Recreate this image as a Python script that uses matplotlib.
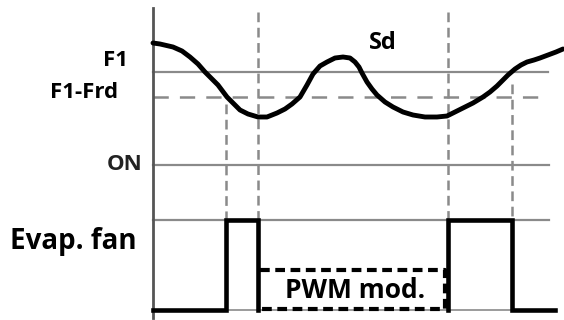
import numpy as np
import matplotlib
matplotlib.use("Agg")
import matplotlib.pyplot as plt

plt.rcParams['font.family'] = ['Open Sans', 'DejaVu Sans']
plt.rcParams['lines.scale_dashes'] = False

# diagram units: x = time, y = level (drawn top-down like the original sketch)
curve_x = [153, 160, 173, 182, 190, 198, 205, 212, 218, 227, 234, 240, 248, 258,
           267, 277, 285, 292, 300, 307, 313, 320, 327, 335, 343, 350, 355, 359,
           362, 367, 372, 377, 385, 393, 403, 413, 425, 437, 447, 455, 463, 473,
           483, 490, 497, 503, 508, 515, 521, 527, 534, 540, 548, 556, 563]
curve_y = [43, 44, 47, 51, 57, 64, 72, 79, 85, 97, 104, 110, 114, 117,
           117, 113, 109, 104, 97, 85, 74, 66, 62, 58, 57, 58, 62, 67,
           73, 82, 89, 95, 102, 107, 112, 115, 117, 117, 116, 112, 108, 103,
           97, 92, 86, 80, 75, 69, 65, 62, 60, 58, 55, 52, 49]

level_f1 = 72
level_f1_frd = 97
level_on = 165
fan_high = 220
fan_low = 310
pwm_level = 270

event_x = [226, 258, 448, 512]
event_top = [104, 12, 12, 84]

fan_x_a = [153, 226, 226, 258, 258]
fan_y_a = [fan_low, fan_low, fan_high, fan_high, fan_low]
fan_x_b = [448, 448, 512, 512, 555]
fan_y_b = [fan_low, fan_high, fan_high, fan_low, fan_low]
pwm_x = [260, 445, 445, 260]
pwm_y = [pwm_level, pwm_level, fan_low - 1, fan_low - 1]

axis_x = 153
line_end = 548

fig = plt.figure(figsize=(5.64, 3.2), dpi=100)
ax = fig.add_axes([0, 0, 1, 1])
ax.set_xlim(0, 564)
ax.set_ylim(320, 0)
ax.axis('off')

grey = '#8a8a8a'
# level lines
ax.plot([axis_x, line_end], [level_f1, level_f1], color=grey, lw=1.6)
ax.plot([axis_x, line_end], [level_f1_frd, level_f1_frd], color=grey, lw=1.8,
        dashes=(11, 8))
ax.plot([axis_x, line_end + 1], [level_on, level_on], color=grey, lw=1.6)
ax.plot([axis_x, line_end + 1], [fan_high, fan_high], color=grey, lw=1.6)
ax.plot([axis_x, line_end + 1], [fan_low, fan_low], color=grey, lw=1.2)

# event lines
for x, top in zip(event_x, event_top):
    ax.plot([x, x], [top, fan_low], color=grey, lw=1.8, dashes=(7, 4))

# vertical axis
ax.plot([axis_x, axis_x], [8, 318], color='#555555', lw=2.0)

# temperature curve
ax.plot(curve_x, curve_y, color='black', lw=3.5, solid_capstyle='round',
        solid_joinstyle='round')

# fan signal
ax.plot(fan_x_a, fan_y_a, color='black', lw=3.3, solid_joinstyle='miter')
ax.plot(fan_x_b, fan_y_b, color='black', lw=3.3, solid_joinstyle='miter')
ax.plot(pwm_x, pwm_y, color='black', lw=3.0, dashes=(7, 4))

# labels
ax.text(128, 61, 'F1', ha='right', va='center', fontsize=16, fontweight='bold')
ax.text(118, 93, 'F1-Frd', ha='right', va='center', fontsize=16, fontweight='bold')
ax.text(143, 164, 'ON', ha='right', va='center', fontsize=16, fontweight='bold',
        color='#222222')
ax.text(10, 242, 'Evap. fan', ha='left', va='center', fontsize=20, fontweight='bold')
ax.text(383, 43, 'Sd', ha='center', va='center', fontsize=17, fontweight='bold')
ax.text(355, 291, 'PWM mod.', ha='center', va='center', fontsize=19, fontweight='bold')

fig.savefig('out.png', dpi=100)
